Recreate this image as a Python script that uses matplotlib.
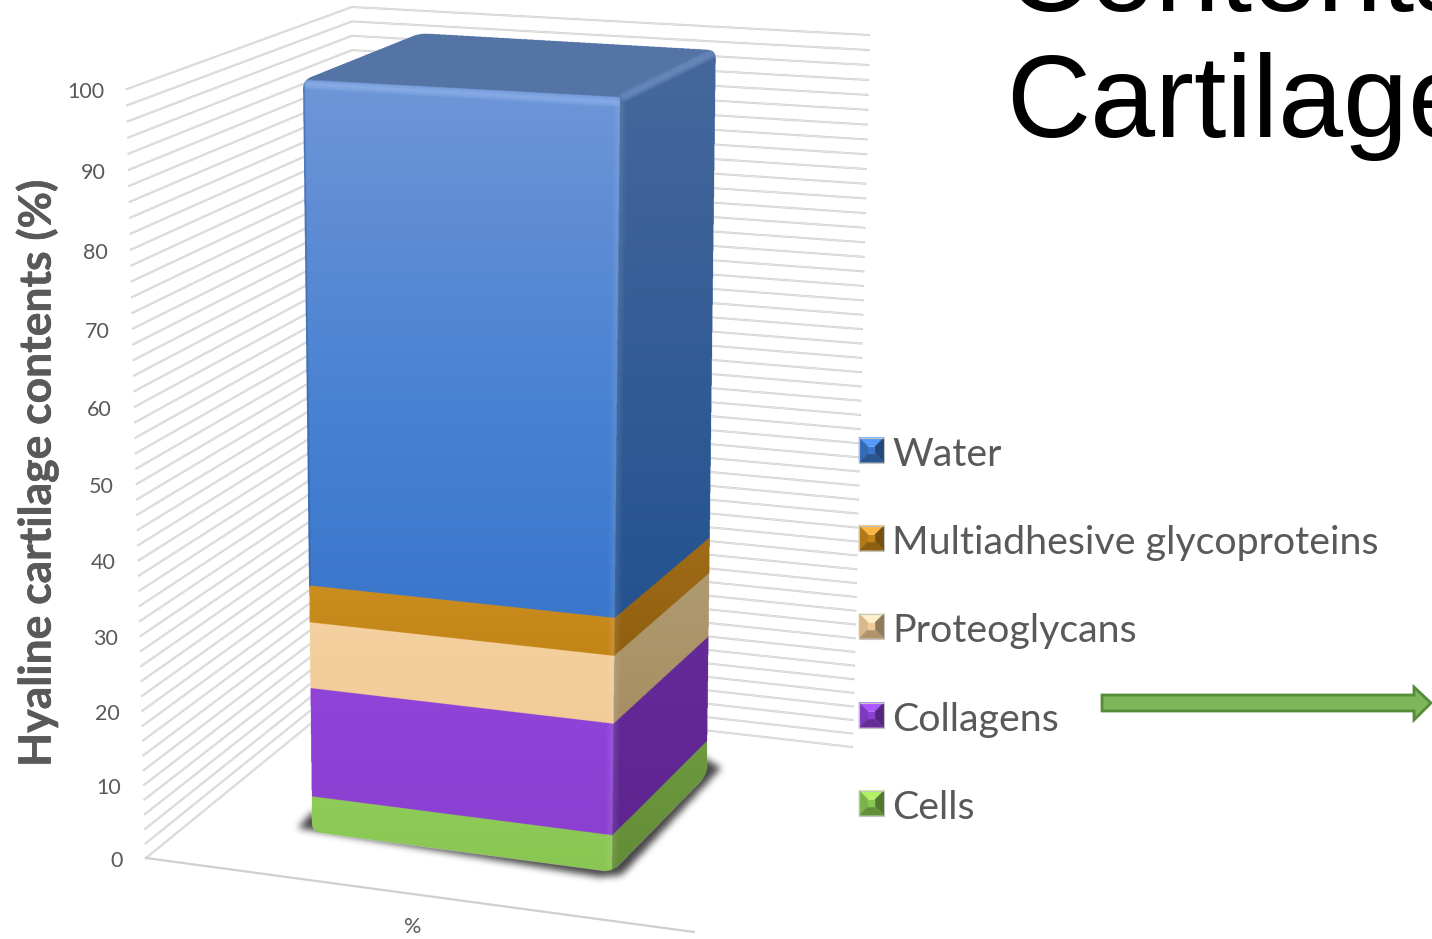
import numpy as np
import matplotlib
matplotlib.use("Agg")
import matplotlib.pyplot as plt
from matplotlib.path import Path
from matplotlib.patches import PathPatch, Polygon
from matplotlib.colors import to_rgb
import matplotlib.patheffects as pe

# stacked contents, bottom to top
names = ["Cells", "Collagens", "Proteoglycans", "Multiadhesive glycoproteins", "Water"]
values = [5, 15, 9, 5, 66]
front_top = ["#8ECB58", "#9044D8", "#F5D0A0", "#CB8C20", "#6E97D8"]
front_bot = ["#8AC652", "#8C40D2", "#F2CC98", "#C48518", "#3A76CA"]
side_top = ["#6E9A40", "#652A98", "#B09A70", "#A06C18", "#46689C"]
side_bot = ["#628C36", "#5E2490", "#A68F62", "#8F5F10", "#235390"]

ticks = list(range(0, 101, 10))
grid_steps = list(range(0, 101, 2))
category = "%"
ylabel = "Hyaline cartilage contents (%)"

W, H = 1432, 939
PERSP = 0.053
SS = 3  # supersampling of the bar image

# wall edges and bar edges, as (x, y) at value 0 and at value 100
wall_left = ((146, 858), (127, 89))
wall_back = ((352, 690), (352, 7))
wall_right = ((852, 747), (869, 35))
floor_front = ((146, 858), (694, 932))
bar_fl = ((312, 832), (303, 80))
bar_fr = ((612, 872), (620, 97))
bar_br = ((707, 775), (716, 50))
bar_bl_top = (420, 33)


def frac(v):
    # vertical foreshortening of the value axis
    v = np.asarray(v, dtype=float) / 100
    return v * (1 - PERSP) / (1 - PERSP * v)


def on_edge(edge, v):
    (x0, y0), (x1, y1) = edge
    f = frac(v)
    return (x0 + (x1 - x0) * f, y0 + (y1 - y0) * f)


def rounded(points, r):
    verts, codes = [], []
    n = len(points)
    for i in range(n):
        p = np.array(points[i], float)
        a = np.array(points[i - 1], float)
        b = np.array(points[(i + 1) % n], float)
        p1 = p + (a - p) / np.linalg.norm(a - p) * r
        p2 = p + (b - p) / np.linalg.norm(b - p) * r
        verts.append(p1)
        codes.append(Path.MOVETO if i == 0 else Path.LINETO)
        verts += [p, p2]
        codes += [Path.CURVE3, Path.CURVE3]
    verts.append(verts[0])
    codes.append(Path.CLOSEPOLY)
    return Path(verts, codes)


def paint_face(canvas, gx, gy, poly, stops):
    # vertical gradient over the face's own height
    poly = np.array(poly, float)
    y0, y1 = poly[:, 1].min(), poly[:, 1].max()
    inside = Path(poly).contains_points(np.c_[gx.ravel(), gy.ravel()]).reshape(gx.shape)
    t = (gy[inside] - y0) / (y1 - y0)
    pos = np.linspace(0, 1, len(stops))
    rgb = np.array([to_rgb(c) for c in stops])
    for k in range(3):
        canvas[..., k][inside] = np.interp(t, pos, rgb[:, k])


def soft_line(ax, p, q, color, width, clip, alpha=0.22, z=4):
    # a few stacked strokes give a soft bevel highlight
    for k in (1.0, 0.65, 0.3):
        ln, = ax.plot([p[0], q[0]], [p[1], q[1]], color=color, lw=width * k, alpha=alpha,
                      solid_capstyle="round", zorder=z)
        ln.set_clip_path(clip)


def blur(a, n):
    kernel = np.ones(n) / n
    for _ in range(3):
        a = np.apply_along_axis(lambda r: np.convolve(r, kernel, mode="same"), 0, a)
        a = np.apply_along_axis(lambda r: np.convolve(r, kernel, mode="same"), 1, a)
    return a


def swatch(ax, x, y, s, base_col, light_col):
    # bevelled legend key
    m = 9
    c = np.array(to_rgb(base_col))
    light = np.array(to_rgb(light_col))
    faces = [
        ([(x, y), (x + s, y), (x + s - m, y + m), (x + m, y + m)], np.clip(light * 1.08, 0, 1)),
        ([(x, y), (x + m, y + m), (x + m, y + s - m), (x, y + s)], c * 0.9),
        ([(x + s, y), (x + s - m, y + m), (x + s - m, y + s - m), (x + s, y + s)], c * 0.6),
        ([(x, y + s), (x + m, y + s - m), (x + s - m, y + s - m), (x + s, y + s)], c * 0.72),
        ([(x + m, y + m), (x + s - m, y + m), (x + s - m, y + s - m), (x + m, y + s - m)], c),
    ]
    for pts, col in faces:
        ax.add_patch(Polygon(pts, fc=col, ec=col, lw=0.3, zorder=6))
    ax.add_patch(Polygon([(x, y), (x + s, y), (x + s, y + s), (x, y + s)], fc="none", ec="#c4c4c4", lw=0.8, zorder=7))


fig = plt.figure(figsize=(W / 100, H / 100), dpi=100, facecolor="white")
ax = fig.add_axes([0, 0, 1, 1])
ax.set_autoscale_on(False)
ax.set_xlim(0, W)
ax.set_ylim(H, 0)
ax.axis("off")

# walls
for v in grid_steps:
    pts = [on_edge(wall_left, v), on_edge(wall_back, v), on_edge(wall_right, v)]
    xs = [p[0] for p in pts]
    ys = [p[1] for p in pts]
    ax.plot(xs, ys, color="#cfcfcf", lw=1.5, zorder=1)
    ax.plot(xs, ys, color="white", lw=0.4, alpha=0.7, zorder=1)
ax.plot([floor_front[0][0], floor_front[1][0]], [floor_front[0][1], floor_front[1][1]],
        color="#cfcfcf", lw=1.6, zorder=1)

# soft shadow under the bar
gx, gy = np.meshgrid(np.arange(270, 760), np.arange(730, 910))
shadow_poly = Path([(298, 828), (600, 877), (622, 875), (721, 768), (700, 755), (312, 812), (298, 828)])
mask = shadow_poly.contains_points(np.c_[gx.ravel() + 0.5, gy.ravel() + 0.5]).reshape(gx.shape).astype(float)
mask = blur(mask, 7)
rgba = np.zeros(mask.shape + (4,))
rgba[..., :3] = 0.15
rgba[..., 3] = mask * 0.85
ax.imshow(rgba, extent=(270, 760, 910, 730), origin="upper", aspect="auto", zorder=2)

# the bar is painted face by face into one image, then cut to its rounded outline
bx0, bx1, by0, by1 = 295, 725, 25, 880
bx = np.arange(bx0, bx1, 1 / SS) + 0.5 / SS
by = np.arange(by0, by1, 1 / SS) + 0.5 / SS
bgx, bgy = np.meshgrid(bx, by)
canvas = np.ones(bgx.shape + (4,))

base = 0
for i, val in enumerate(values):
    top = base + val
    front = [on_edge(bar_fl, base), on_edge(bar_fr, base), on_edge(bar_fr, top), on_edge(bar_fl, top)]
    side = [on_edge(bar_fr, base), on_edge(bar_br, base), on_edge(bar_br, top), on_edge(bar_fr, top)]
    if names[i] == "Water":
        f_stops = [front_top[i], "#5A8AD4", "#4580D2", front_bot[i]]
    else:
        f_stops = [front_top[i], front_bot[i]]
    paint_face(canvas, bgx, bgy, front, f_stops)
    paint_face(canvas, bgx, bgy, side, [side_top[i], side_bot[i]])
    base = top
paint_face(canvas, bgx, bgy, [bar_fl[1], bar_bl_top, bar_br[1], bar_fr[1]], ["#5574A6", "#5574A6"])

outline = [bar_fl[0], bar_fl[1], bar_bl_top, bar_br[1], bar_br[0], bar_fr[0]]
outline_path = rounded(outline, 9)
inside_bar = outline_path.contains_points(np.c_[bgx.ravel(), bgy.ravel()]).reshape(bgx.shape)
canvas[..., 3] = inside_bar.astype(float)
ax.imshow(canvas, extent=(bx0, bx1, by1, by0), origin="upper", aspect="auto",
          interpolation="antialiased", zorder=3)

clip = PathPatch(outline_path, fc="none", ec="none", transform=ax.transData)
ax.add_patch(clip)

# bevels along the bar's edges
soft_line(ax, on_edge(bar_fr, 1), on_edge(bar_fr, 99), "#ffffff", 9, clip, alpha=0.035)
soft_line(ax, (306, 84), (616, 102), "#9cbcf0", 7, clip, alpha=0.22)
soft_line(ax, (624, 97), (712, 54), "#8aa8dc", 7, clip, alpha=0.2)
soft_line(ax, bar_fl[1], on_edge(bar_fl, 34), "#2f5a96", 3, clip, alpha=0.25)

# tick labels follow the left wall edge
for t in ticks:
    x, y = on_edge(wall_left, t)
    ax.text(x - 23, y + 3, str(t), ha="right", va="center", fontsize=15.5, color="#595959",
            family="Lato", zorder=8)

ax.text(413, 927, category, ha="center", va="center", fontsize=15.5, color="#595959", family="Lato", zorder=8)
ax.text(37, 473, ylabel, rotation=90, ha="center", va="center", fontsize=32, fontweight="bold",
        color="#595959", family="Lato", zorder=8,
        path_effects=[pe.withStroke(linewidth=0.4, foreground="#595959")])

# legend, top entry first
legend_y = [450, 538, 626, 715, 803]
light_y = ["#A4E060", "#A050F0", "#FBE0BC", "#EEA840", "#4E8FE6"]
for name, ly, c_bot, c_light in zip(names[::-1], legend_y, front_bot[::-1], light_y[::-1]):
    swatch(ax, 859, ly - 12.5, 25, c_bot, c_light)
    ax.text(892.5, ly + 5, name, ha="left", va="center", fontsize=28.4, color="#595959", family="Lato", zorder=8)

# arrow pointing at the collagen entry
arrow = [(1102, 695), (1414, 695), (1414, 687), (1431, 703), (1414, 720), (1414, 711), (1102, 711)]
ax.add_patch(Polygon(arrow, closed=True, fc="#7DB65B", ec="#568B38", lw=2, zorder=6))

# slide title running off the edge
ax.text(1006, 11, "Contents of", ha="left", va="baseline", fontsize=84, color="black",
        family="Liberation Sans", zorder=8, clip_on=True)
ax.text(1006, 137, "Cartilage", ha="left", va="baseline", fontsize=84, color="black",
        family="Liberation Sans", zorder=8, clip_on=True)

fig.savefig("out.png", dpi=100, facecolor="white")
